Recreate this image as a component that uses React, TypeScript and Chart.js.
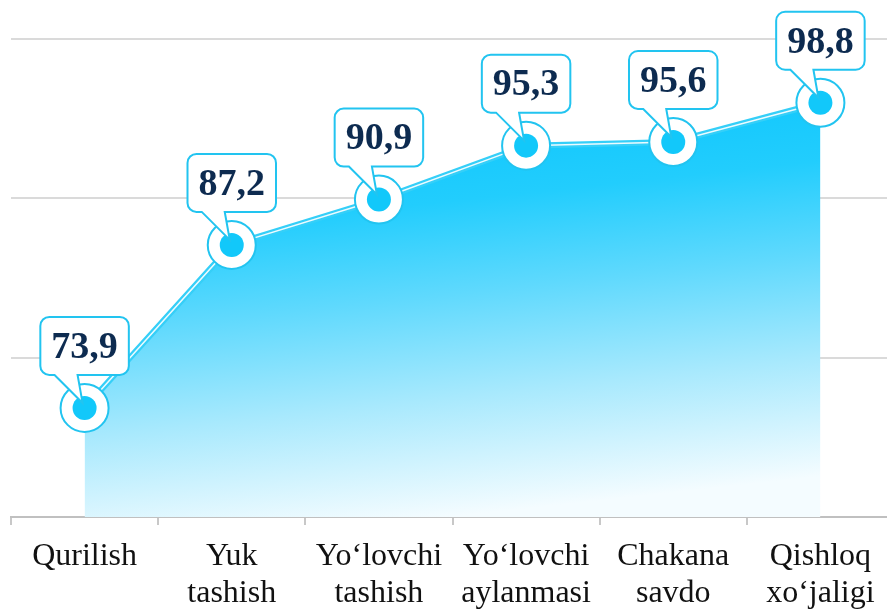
import React, { useEffect, useRef } from "react";
import { Chart, registerables } from "chart.js";

Chart.register(...registerables);

const categories: string[][] = [
  ["Qurilish"],
  ["Yuk", "tashish"],
  ["Yo‘lovchi", "tashish"],
  ["Yo‘lovchi", "aylanmasi"],
  ["Chakana", "savdo"],
  ["Qishloq", "xo‘jaligi"],
];
const values: number[] = [73.9, 87.2, 90.9, 95.3, 95.6, 98.8];
const yMin = 65;
const yMax = 104;
const yStep = 13;

const CYAN = "#12c8fa";
const BORDER = "#22c4f0";
const TEXT_DARK = "#0d2b50";

const fmt = (v: number) => v.toFixed(1).replace(".", ",");

const shadowPlugin = {
  id: "areaShadow",
  beforeDatasetDraw(chart: any, args: any) {
    if (args.index === 0) {
      const ctx = chart.ctx;
      ctx.save();
      ctx.shadowColor = "rgba(0,0,0,0.45)";
      ctx.shadowBlur = 6;
      ctx.shadowOffsetX = 0;
      ctx.shadowOffsetY = 0;
    }
  },
  afterDatasetDraw(chart: any, args: any) {
    if (args.index === 0) {
      chart.ctx.restore();
    }
  },
};

const calloutPlugin = {
  id: "callouts",
  afterDraw(chart: any) {
    const meta = chart.getDatasetMeta(0);
    const ctx = chart.ctx as CanvasRenderingContext2D;
    ctx.save();
    ctx.font = "bold 38px 'Liberation Serif', 'Times New Roman', serif";
    meta.data.forEach((pt: any, i: number) => {
      const { x, y } = pt.getProps(["x", "y"], true);
      const text = fmt(values[i]);
      const tw = ctx.measureText(text).width;
      const w = tw + 22;
      const h = 58;
      const left = x - w / 2;
      const right = left + w;
      const bottom = y - 33;
      const top = bottom - h;
      const r = 9;
      const b1 = x - 30;
      const b2 = x - 7;
      ctx.beginPath();
      ctx.moveTo(left + r, top);
      ctx.lineTo(right - r, top);
      ctx.arcTo(right, top, right, top + r, r);
      ctx.lineTo(right, bottom - r);
      ctx.arcTo(right, bottom, right - r, bottom, r);
      ctx.lineTo(b2, bottom);
      ctx.lineTo(x - 2, y - 5);
      ctx.lineTo(b1, bottom);
      ctx.lineTo(left + r, bottom);
      ctx.arcTo(left, bottom, left, bottom - r, r);
      ctx.lineTo(left, top + r);
      ctx.arcTo(left, top, left + r, top, r);
      ctx.closePath();
      ctx.fillStyle = "#ffffff";
      ctx.fill();
      ctx.lineWidth = 2;
      ctx.strokeStyle = BORDER;
      ctx.stroke();
      ctx.fillStyle = TEXT_DARK;
      ctx.textAlign = "center";
      ctx.textBaseline = "middle";
      ctx.fillText(text, x, top + h / 2 + 2);
    });
    ctx.restore();
  },
};

export default function App() {
  const ref = useRef<HTMLCanvasElement | null>(null);

  useEffect(() => {
    if (!ref.current) return;
    const chart = new Chart(ref.current, {
      type: "line",
      data: {
        labels: categories,
        datasets: [
          {
            data: values,
            order: 5,
            fill: "start",
            borderWidth: 0,
            borderColor: "rgba(0,0,0,0)",
            pointRadius: 0,
            tension: 0,
            backgroundColor: (c: any) => {
              const { chart } = c;
              const area = chart.chartArea;
              if (!area) return "rgba(24,197,245,0.6)";
              const g = chart.ctx.createLinearGradient(
                area.left + area.width * 0.45,
                150,
                area.left + area.width * 0.45 + 40,
                area.bottom
              );
              g.addColorStop(0, "#16c9fd");
              g.addColorStop(0.15, "#22cdfd");
              g.addColorStop(0.4, "#5fd9fd");
              g.addColorStop(0.68, "#a8e9fd");
              g.addColorStop(1, "#f4fcff");
              return g;
            },
          },
          {
            data: values,
            order: 4,
            fill: false,
            borderColor: "#35cff8",
            borderWidth: 6,
            pointRadius: 0,
            tension: 0,
          },
          {
            data: values,
            order: 3,
            fill: false,
            borderColor: "rgba(255,255,255,0.9)",
            borderWidth: 1.5,
            pointRadius: 0,
            tension: 0,
          },
          {
            data: values,
            order: 2,
            showLine: false,
            fill: false,
            pointRadius: 24,
            pointBackgroundColor: "#ffffff",
            pointBorderColor: BORDER,
            pointBorderWidth: 2,
          },
          {
            data: values,
            order: 1,
            showLine: false,
            fill: false,
            pointRadius: 12,
            pointBackgroundColor: CYAN,
            pointBorderColor: CYAN,
            pointBorderWidth: 0,
          },
        ],
      },
      options: {
        animation: false,
        responsive: false,
        layout: {
          autoPadding: false,
          padding: { left: 11, right: 6, top: 39, bottom: 0 },
        },
        plugins: {
          legend: { display: false },
          tooltip: { enabled: false },
          title: { display: false },
        },
        scales: {
          x: {
            offset: true,
            afterFit: (scale: any) => {
              scale.height = 92;
            },
            grid: {
              offset: true,
              drawOnChartArea: false,
              drawTicks: true,
              tickLength: 8,
              color: "#c8c8c8",
              lineWidth: 2,
            },
            border: { display: true, color: "#c0c0c0", width: 2 },
            ticks: {
              color: "#111111",
              padding: 13,
              maxRotation: 0,
              autoSkip: false,
              font: {
                family: "'Liberation Serif', 'Times New Roman', serif",
                size: 32,
                lineHeight: 1.16,
              },
            },
          },
          y: {
            min: yMin,
            max: yMax,
            afterFit: (scale: any) => {
              scale.width = 0;
            },
            ticks: { display: false, stepSize: yStep },
            grid: {
              color: "#dadada",
              lineWidth: 2,
              drawTicks: false,
              tickLength: 0,
            },
            border: { display: false },
          },
        },
      },
      plugins: [shadowPlugin, calloutPlugin],
    });
    return () => chart.destroy();
  }, []);

  return (
    <div
      style={{
        position: "absolute",
        left: 0,
        top: 0,
        width: 887,
        height: 609,
        overflow: "hidden",
        background: "#ffffff",
      }}
    >
      <canvas ref={ref} width={900} height={609} style={{ display: "block" }} />
    </div>
  );
}
